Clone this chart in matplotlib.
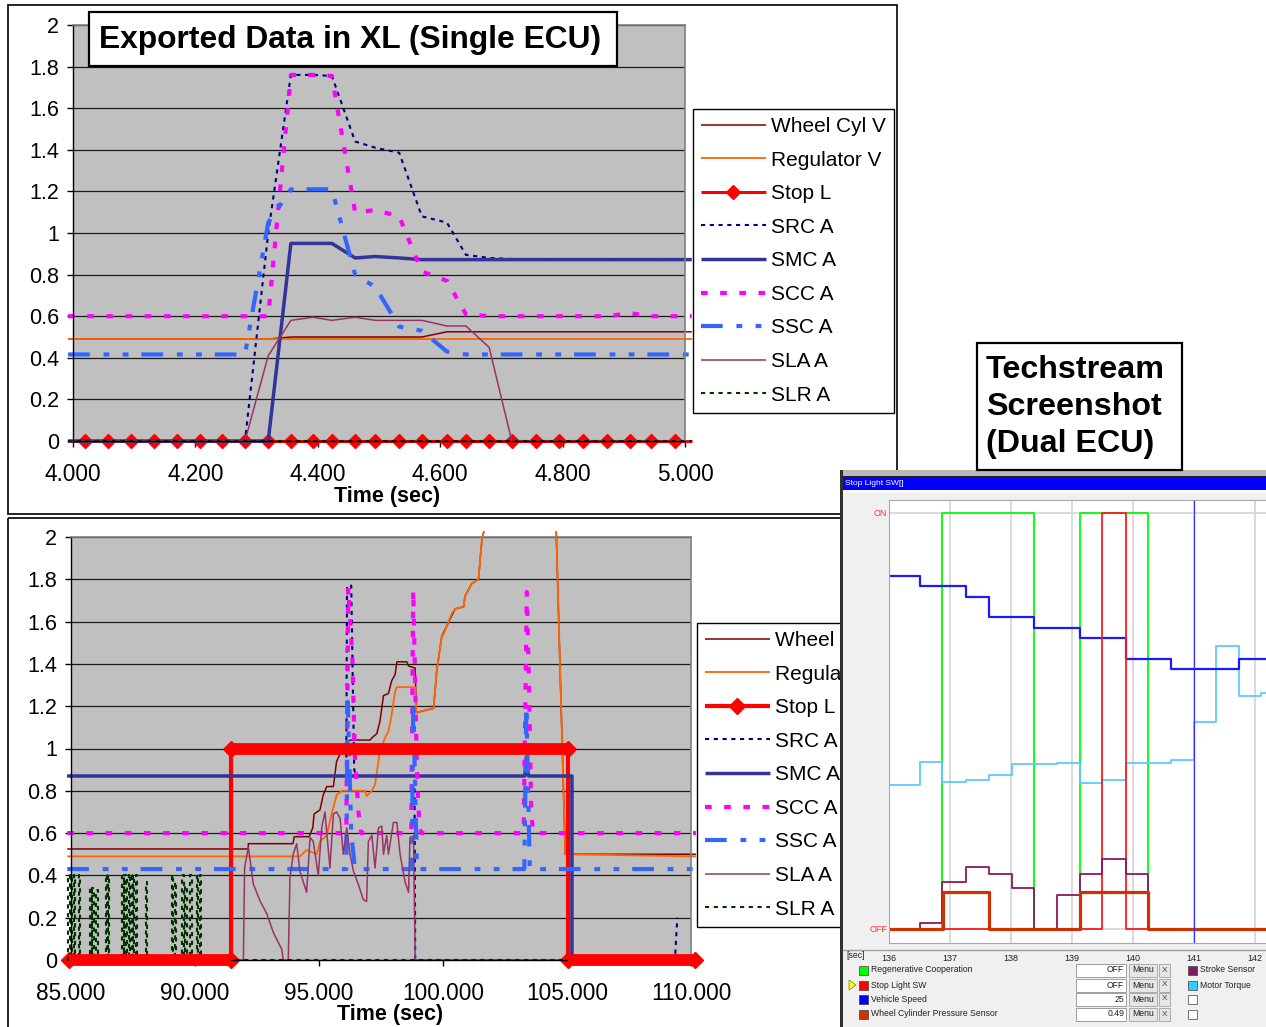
import numpy as np
import matplotlib
matplotlib.use('Agg')
import matplotlib.pyplot as plt
from matplotlib.patches import Rectangle, Polygon

W, H = 1266, 1027
plt.rcParams['font.family'] = ['Liberation Sans', 'DejaVu Sans']

# ---------------- data: top chart (single ECU) ----------------
t_top = [3.992, 4.020, 4.057, 4.095, 4.132, 4.170, 4.207, 4.244, 4.281, 4.319,
         4.356, 4.392, 4.423, 4.461, 4.494, 4.533, 4.570, 4.611, 4.642, 4.680,
         4.717, 4.757, 4.794, 4.833, 4.873, 4.910, 4.944, 4.984, 5.011]
wheel_top = [0.49] * 10 + [0.50] * 7 + [0.525] * 12
reg_top = [0.49] * 29
stop_top = [0.0] * 29
src_top = [0] * 9 + [1.0, 1.76, 1.76, 1.755, 1.44, 1.41, 1.386, 1.08, 1.05, 0.895, 0.88] + [0.875] * 9
smc_top = [0] * 10 + [0.95, 0.95, 0.95, 0.88, 0.887, 0.88] + [0.872] * 13
scc_top = [0.6] * 10 + [1.76, 1.76, 1.755, 1.10, 1.11, 1.08, 0.815, 0.77, 0.61] + [0.6] * 6 + [0.615, 0.6, 0.6, 0.6]
ssc_top = [0.416] * 9 + [1.05, 1.21, 1.21, 1.21, 0.80, 0.74, 0.55, 0.53, 0.43] + [0.416] * 11
sla_top = [0] * 9 + [0.41, 0.58, 0.595, 0.58, 0.595, 0.58, 0.58, 0.58, 0.553, 0.553, 0.45] + [0] * 9
slr_top = [0.0] * 29

# ---------------- data: bottom chart ----------------
wheel_b_t = [84.85, 92.15, 92.15, 93.95, 94.0, 94.6, 94.75, 94.8, 95.04, 95.17, 95.31, 95.58, 95.71,
             95.92, 96.12, 96.25, 97.06, 97.13, 97.33, 97.46, 97.6, 97.8, 97.93, 98.07, 98.14, 98.54,
             98.61, 98.88, 98.92, 99.62, 99.75, 99.95, 100.36, 100.49, 100.83, 100.89, 101.16, 101.43,
             101.57, 101.7, 102.0, 104.5, 104.56, 104.93, 110.2]
wheel_b_v = [0.525, 0.525, 0.55, 0.55, 0.583, 0.583, 0.625, 0.69, 0.71, 0.78, 0.82, 0.82, 0.94, 0.99,
             1.03, 1.04, 1.04, 1.05, 1.07, 1.13, 1.25, 1.26, 1.32, 1.35, 1.41, 1.41, 1.39, 1.38, 1.17,
             1.19, 1.37, 1.53, 1.63, 1.66, 1.67, 1.72, 1.78, 1.80, 1.99, 2.05, 2.4, 2.4, 2.05, 0.5, 0.5]
reg_b_t = [84.85, 94.23, 94.5, 94.91, 95.04, 95.31, 95.51, 95.71, 95.92, 96.86, 96.92, 97.13, 97.26,
           97.46, 97.66, 97.8, 97.93, 98.07, 98.14, 98.88, 98.92, 99.62, 99.75, 99.95, 100.02, 100.36,
           100.49, 100.83, 100.89, 101.16, 101.43, 101.57, 101.7, 102.0, 104.5, 104.56, 104.93, 110.2]
reg_b_v = [0.49, 0.49, 0.52, 0.5, 0.56, 0.59, 0.69, 0.78, 0.80, 0.80, 0.775, 0.80, 0.83, 0.99, 1.05,
           1.08, 1.16, 1.27, 1.29, 1.29, 1.17, 1.19, 1.37, 1.53, 1.54, 1.64, 1.66, 1.67, 1.72, 1.78,
           1.80, 1.99, 2.05, 2.4, 2.4, 2.05, 0.5, 0.49]
stop_b_t = [84.9, 91.45, 91.45, 105.05, 105.05, 110.15]
stop_b_v = [0, 0, 1, 1, 0, 0]
src_b_t = [84.85, 96.1, 96.13, 96.3, 96.42, 96.5, 98.85, 98.88, 109.35, 109.45]
src_b_v = [0.87, 0.87, 1.77, 1.77, 0.9, 0.87, 0.87, 0, 0, 0.2]
smc_b_t = [84.85, 103.3, 103.36, 103.45, 105.2, 105.2, 110.2]
smc_b_v = [0.87, 0.87, 0.96, 0.87, 0.87, 0, 0]
scc_b_t = [84.85, 96.1, 96.18, 96.35, 96.45, 96.6, 96.7, 98.72, 98.8, 98.95, 99.05, 99.15,
           103.25, 103.38, 103.47, 103.56, 103.66, 110.2]
scc_b_v = [0.6, 0.6, 1.76, 1.42, 0.95, 0.69, 0.6, 0.6, 1.75, 0.9, 0.62, 0.6, 0.6, 1.74, 1.3, 0.68, 0.6, 0.6]
ssc_b_t = [84.85, 96.1, 96.16, 96.3, 96.45, 98.74, 98.8, 98.95, 103.28, 103.36, 103.5, 110.2]
ssc_b_v = [0.43, 0.43, 1.22, 0.6, 0.43, 0.43, 1.22, 0.43, 0.43, 1.2, 0.43, 0.43]
sla_b_t = [84.85, 91.95, 92.0, 92.15, 92.35, 92.62, 92.89, 93.16, 93.5, 93.56, 93.76, 93.83, 93.96,
           94.1, 94.23, 94.5, 94.64, 94.77, 94.97, 95.11, 95.24, 95.44, 95.58, 95.71, 95.85, 95.98,
           96.12, 96.25, 96.39, 96.59, 96.79, 96.92, 96.99, 97.13, 97.26, 97.4, 97.53, 97.6, 97.73,
           97.8, 98.0, 98.14, 98.27, 98.47, 98.61, 98.67, 98.81, 98.88, 110.2]
sla_b_v = [0, 0, 0.435, 0.535, 0.36, 0.28, 0.22, 0.13, 0.05, 0, 0, 0.39, 0.5, 0.55, 0.42, 0.32, 0.58,
           0.56, 0.40, 0.625, 0.70, 0.435, 0.69, 0.70, 0.67, 0.5, 0.625, 0.5, 0.42, 0.356, 0.285,
           0.277, 0.56, 0.59, 0.435, 0.625, 0.633, 0.5, 0.59, 0.5, 0.65, 0.65, 0.5, 0.37, 0.32, 0.58,
           0.585, 0, 0]
# SLR A: short pulses (start time, height); each pulse lasts ~0.06 s, zero otherwise
slr_pulse_t = [84.88, 85.0, 85.12, 85.32, 85.77, 85.85, 86.01, 86.41, 86.49, 87.06, 87.14, 87.26,
               87.38, 87.5, 87.62, 88.02, 89.07, 89.19, 89.48, 89.6, 89.8, 90.08, 90.2]
slr_pulse_h = [0.4, 0.4, 0.4, 0.4, 0.34, 0.34, 0.33, 0.4, 0.4, 0.4, 0.4, 0.4,
               0.4, 0.4, 0.4, 0.37, 0.4, 0.37, 0.4, 0.35, 0.4, 0.4, 0.4]
slr_pulse_w = 0.06
slr_end_t = 110.2

series_labels = ['Wheel Cyl V', 'Regulator V', 'Stop L', 'SRC A', 'SMC A', 'SCC A', 'SSC A', 'SLA A', 'SLR A']
y_ticks = [0, 0.2, 0.4, 0.6, 0.8, 1.0, 1.2, 1.4, 1.6, 1.8, 2.0]
y_ticklabels = ['0', '0.2', '0.4', '0.6', '0.8', '1', '1.2', '1.4', '1.6', '1.8', '2']
top_xticks = [4.0, 4.2, 4.4, 4.6, 4.8, 5.0]
top_xticklabels = ['4.000', '4.200', '4.400', '4.600', '4.800', '5.000']
bot_xticks = [85, 90, 95, 100, 105, 110]
bot_xticklabels = ['85.000', '90.000', '95.000', '100.000', '105.000', '110.000']

# ---------------- Techstream screenshot data ----------------
ts_ticks = [136, 137, 138, 139, 140, 141, 142]
speed_t = [136.0, 136.5, 137.26, 137.64, 138.38, 139.13, 139.88, 140.63, 141.74, 142.2]
speed_v = [0.849, 0.825, 0.80, 0.751, 0.725, 0.70, 0.65, 0.625, 0.65, 0.65]
torque_t = [136.0, 136.5, 136.87, 137.26, 137.64, 138.02, 138.76, 139.13, 139.5, 139.88, 140.25,
            140.63, 141.0, 141.37, 141.74, 142.11, 142.2]
torque_v = [0.347, 0.403, 0.355, 0.359, 0.37, 0.397, 0.40, 0.353, 0.358, 0.399, 0.40, 0.407, 0.498,
            0.681, 0.561, 0.569, 0.569]
regen_t = [136.0, 136.87, 138.38, 139.13, 140.25, 142.2]
regen_v = [0, 1, 0, 1, 0, 0]
stopsw_t = [136.0, 139.5, 139.88, 142.2]
stopsw_v = [0, 1, 0, 0]
stroke_t = [136.0, 136.5, 136.87, 137.26, 137.64, 138.02, 138.38, 138.76, 139.13, 139.5, 139.88, 140.25, 142.2]
stroke_v = [0, 0.016, 0.114, 0.149, 0.133, 0.10, 0, 0.082, 0.133, 0.168, 0.133, 0, 0]
wcp_t = [136.0, 136.89, 137.64, 139.13, 140.25, 142.2]
wcp_v = [0, 0.089, 0, 0.089, 0, 0]
cursor_t = 141.0
ts_rows = ['Regenerative Cooperation', 'Stop Light SW', 'Vehicle Speed', 'Wheel Cylinder Pressure Sensor']
ts_row_colors = ['#00FF00', '#FF0000', '#0000FF', '#CC3300']
ts_row_values = ['OFF', 'OFF', '25', '0.49']
ts_right = ['Stroke Sensor', 'Motor Torque', '', '']
ts_right_colors = ['#7F1F5F', '#33CCFF', 'white', 'white']

# build SLR polyline from the pulse list
slr_b_t, slr_b_v = [84.85], [0.0]
for pt, ph in zip(slr_pulse_t, slr_pulse_h):
    slr_b_t += [pt, pt, pt + slr_pulse_w, pt + slr_pulse_w]
    slr_b_v += [0.0, ph, ph, 0.0]
slr_b_t.append(slr_end_t)
slr_b_v.append(0.0)


def fbox(x0, y0, x1, y1):
    return [x0 / W, 1 - y1 / H, (x1 - x0) / W, (y1 - y0) / H]


fig = plt.figure(figsize=(W / 100, H / 100), dpi=100)
fig.patch.set_facecolor('white')

# background frames
bg = fig.add_axes([0, 0, 1, 1], zorder=0)
bg.set_xlim(0, W); bg.set_ylim(H, 0); bg.axis('off')
bg.add_patch(Rectangle((8, 5), 889, 509, fill=False, ec='black', lw=1.2))
bg.add_patch(Rectangle((8, 518), 900, 530, fill=False, ec='black', lw=1.2))

styles = [
    dict(color='#800000', lw=1.1),
    dict(color='#FF6600', lw=1.3),
    dict(color='#FF0000', lw=2.2, marker='D', ms=7, mec='#FF0000'),
    dict(color='#000080', lw=1.5, ls=(0, (2.0, 2.2))),
    dict(color='#333399', lw=2.5),
    dict(color='#FF00FF', lw=3.0, ls=(0, (1.6, 3.0))),
    dict(color='#3366FF', lw=3.0, ls=(0, (5.2, 3.3, 1.4, 3.2, 1.4, 3.1))),
    dict(color='#993366', lw=1.1),
    dict(color='#003300', lw=1.5, ls=(0, (2.0, 2.2))),
]


def style_chart(ax, xlim, xticks, xticklabels, xlab_pos):
    ax.set_facecolor('#C0C0C0')
    ax.set_xlim(*xlim)
    ax.set_ylim(0, 2)
    ax.set_yticks(y_ticks)
    ax.set_yticklabels(y_ticklabels)
    ax.set_xticks(xticks)
    ax.set_xticklabels(xticklabels)
    ax.yaxis.grid(True, color='#1a1a1a', lw=0.9)
    ax.set_axisbelow(True)
    for s in ['top', 'right']:
        ax.spines[s].set_color('#808080')
        ax.spines[s].set_linewidth(1.2)
    for s in ['left', 'bottom']:
        ax.spines[s].set_color('black')
        ax.spines[s].set_linewidth(1.0)
    ax.tick_params(axis='y', direction='out', length=4, width=1, pad=6, labelsize=15.5)
    ax.tick_params(axis='x', direction='out', length=4, width=1, pad=12, labelsize=16.3)
    ax.set_xlabel('Time (sec)', fontsize=15.5, fontweight='bold')
    ax.xaxis.set_label_coords(*xlab_pos)


def clipper(ax):
    return Rectangle((-0.02, -0.04), 1.04, 1.055, transform=ax.transAxes)


def make_legend(ax, handles, x, y):
    leg = ax.legend(handles, series_labels, loc='upper left', bbox_to_anchor=(x / W, 1 - y / H),
                    bbox_transform=fig.transFigure, frameon=True, fancybox=False, edgecolor='black',
                    fontsize=15, handlelength=3.1, handletextpad=0.25, labelspacing=0.70,
                    borderpad=0.38, borderaxespad=0, framealpha=1, numpoints=1)
    leg.get_frame().set_linewidth(1.0)
    return leg


# ---------------- top chart ----------------
ax1 = fig.add_axes(fbox(73, 25, 685, 441), zorder=1)
style_chart(ax1, (4.0, 5.0), top_xticks, top_xticklabels, (0.513, -0.108))
top_series = [wheel_top, reg_top, stop_top, src_top, smc_top, scc_top, ssc_top, sla_top, slr_top]
handles1 = []
for vals, st in zip(top_series, styles):
    kw = dict(st)
    if 'marker' in kw:
        kw['markevery'] = list(range(1, len(t_top) - 1))
    ln, = ax1.plot(t_top, vals, solid_capstyle='butt', dash_capstyle='butt', **kw)
    ln.set_clip_path(clipper(ax1))
    handles1.append(ln)
make_legend(ax1, handles1, 693, 109)

# ---------------- bottom chart ----------------
ax2 = fig.add_axes(fbox(71, 537, 691, 960), zorder=1)
style_chart(ax2, (85, 110), bot_xticks, bot_xticklabels, (0.5145, -0.104))
bot_series = [(wheel_b_t, wheel_b_v), (reg_b_t, reg_b_v), (stop_b_t, stop_b_v), (src_b_t, src_b_v),
              (smc_b_t, smc_b_v), (scc_b_t, scc_b_v), (ssc_b_t, ssc_b_v), (sla_b_t, sla_b_v),
              (slr_b_t, slr_b_v)]
handles2 = []
for (tt, vv), st in zip(bot_series, styles):
    kw = dict(st)
    if 'marker' in kw:
        kw['lw'] = 3.0
        kw['ms'] = 8
    ln, = ax2.plot(tt, vv, solid_capstyle='butt', dash_capstyle='butt', **kw)
    ln.set_clip_path(clipper(ax2))
    handles2.append(ln)
# Stop L dense markers form a thick band along the flat stretches
for i in range(len(stop_b_t) - 1):
    if stop_b_v[i] == stop_b_v[i + 1]:
        b, = ax2.plot(stop_b_t[i:i + 2], stop_b_v[i:i + 2], color='#FF0000', lw=8.5,
                      solid_capstyle='butt', zorder=3)
        b.set_clip_path(clipper(ax2))
make_legend(ax2, handles2, 697, 623)

# ---------------- Techstream screenshot ----------------
sp = fig.add_axes(fbox(840, 470, 1266, 1027), zorder=5)
sp.set_xlim(840, 1266); sp.set_ylim(1027, 470); sp.axis('off')
sp.add_patch(Rectangle((840, 470), 426, 557, fc='#F0F0F0', ec='none'))
sp.add_patch(Rectangle((840, 470), 426, 6, fc='#B8B8B8', ec='none'))
sp.add_patch(Rectangle((840, 475.5), 426, 2, fc='#202020', ec='none'))
sp.add_patch(Rectangle((840, 470), 3, 557, fc='#303030', ec='none'))
sp.add_patch(Rectangle((843, 477.5), 423, 12, fc='#0000FF', ec='none'))
sp.text(845, 483.5, 'Stop Light SW[]', color='white', fontsize=6, va='center', ha='left')
sp.add_patch(Rectangle((843, 489.5), 423, 3, fc='white', ec='none'))
sp.plot([843, 1266], [950, 950], color='#A0A0A0', lw=1)
sp.text(846, 956, '[sec]', fontsize=6.2, va='center', ha='left', color='#202020')
sp.text(887, 513, 'ON', fontsize=6.5, color='#FF3030', va='center', ha='right')
sp.text(887, 929, 'OFF', fontsize=6.5, color='#FF3030', va='center', ha='right')
row_y = [970, 985, 999, 1014]
for i, y in enumerate(row_y):
    sp.add_patch(Rectangle((859, y - 4.5), 9, 9, fc=ts_row_colors[i], ec='#404040', lw=0.5))
    sp.text(871, y, ts_rows[i], fontsize=6.2, va='center', ha='left', color='#202020')
    sp.add_patch(Rectangle((1076, y - 6.5), 50, 13, fc='white', ec='#909090', lw=0.6))
    sp.text(1124, y, ts_row_values[i], fontsize=6.2, va='center', ha='right', color='#202020')
    sp.add_patch(Rectangle((1129, y - 6.5), 28, 13, fc='#E6E6E6', ec='#A0A0A0', lw=0.6))
    sp.text(1143, y, 'Menu', fontsize=6.2, va='center', ha='center', color='#202020')
    sp.add_patch(Rectangle((1159, y - 6.5), 11, 13, fc='#E6E6E6', ec='#A0A0A0', lw=0.6))
    sp.text(1164.5, y, 'X', fontsize=6, va='center', ha='center', color='#404040')
    sp.add_patch(Rectangle((1188, y - 4.5), 9, 9, fc=ts_right_colors[i], ec='#404040', lw=0.5))
    sp.text(1200, y, ts_right[i], fontsize=6.2, va='center', ha='left', color='#202020')
sp.add_patch(Polygon([(849, 980), (849, 990), (856, 985)], closed=True, fc='#FFFF00', ec='#808000', lw=0.5))

tp = fig.add_axes(fbox(889.3, 500, 1266, 942.7), zorder=6)
tp.set_facecolor('white')
tp.set_xlim(136, 142.186)
tp.set_ylim(-0.032, 1.032)
tp.set_xticks(ts_ticks)
tp.set_xticklabels([str(v) for v in ts_ticks])
tp.set_yticks([])
tp.tick_params(axis='x', length=0, pad=8, labelsize=6.5, labelcolor='#202020')
for s in ['left', 'top', 'bottom']:
    tp.spines[s].set_color('#A8A8A8')
tp.spines['right'].set_visible(False)
for t in ts_ticks[1:]:
    tp.axvline(t, color='#D4D4D4', lw=1.2, zorder=0.5)
tp.axhline(1, color='#D4D4D4', lw=1.2, zorder=0.5)
tp.axhline(0, color='#D4D4D4', lw=1.2, zorder=0.5)
tp.plot(regen_t, regen_v, drawstyle='steps-post', color='#00FF00', lw=1.3)
tp.plot(torque_t, torque_v, drawstyle='steps-post', color='#5CCBFF', lw=1.3)
tp.plot(speed_t, speed_v, drawstyle='steps-post', color='#1A1AFF', lw=1.6)
tp.plot(stopsw_t, stopsw_v, drawstyle='steps-post', color='#FF1A1A', lw=1.3)
tp.plot(stroke_t, stroke_v, drawstyle='steps-post', color='#8B1A5E', lw=1.3)
tp.plot(wcp_t, wcp_v, drawstyle='steps-post', color='#CC3300', lw=2.3)
tp.axvline(cursor_t, color='#3333FF', lw=0.9)

# ---------------- foreground title boxes ----------------
fg = fig.add_axes([0, 0, 1, 1], zorder=10)
fg.set_xlim(0, W); fg.set_ylim(H, 0); fg.axis('off')
fg.add_patch(Rectangle((89, 12), 528, 54, fc='white', ec='black', lw=1.6))
fg.text(99, 40, 'Exported Data in XL (Single ECU)', fontsize=22.9, fontweight='bold', va='center', ha='left')
fg.add_patch(Rectangle((977, 343), 205, 127, fc='white', ec='black', lw=1.6))
for i, s in enumerate(['Techstream', 'Screenshot', '(Dual ECU)']):
    fg.text(986, 370 + 37 * i, s, fontsize=23.2, fontweight='bold', va='center', ha='left')

fig.savefig('out.png', dpi=100)
